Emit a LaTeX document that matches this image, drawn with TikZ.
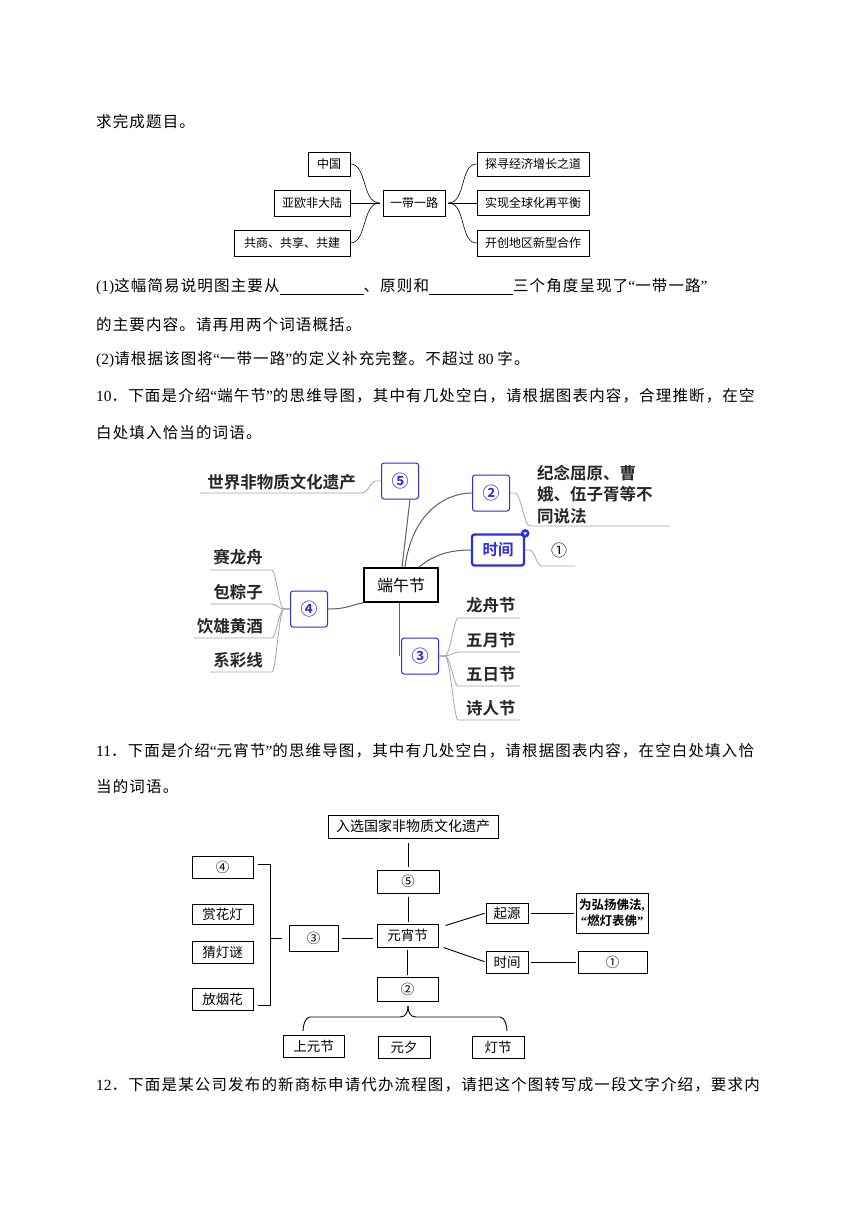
\documentclass[tikz,border=0pt]{standalone}
\usepackage{fontspec}
\setmainfont{Liberation Serif}
\newfontfamily\cjk{Noto Sans CJK SC}[BoldFont={Noto Sans CJK SC Bold}]
\newfontfamily\cjkt{Noto Sans CJK SC}[LetterSpace=7.4]
\definecolor{bl}{RGB}{45,45,225}
\definecolor{gl}{RGB}{165,165,165}
\definecolor{dl}{RGB}{95,95,95}
\newcommand\bt{\cjkt\fontsize{15.5}{15.5}\selectfont}
\newcommand\la[1]{{\rmfamily #1}}
\newcommand\qq[1]{\la{“}#1\la{”}}
\newcommand\blank{\rule[-3pt]{84pt}{0.8pt}}
\tikzset{
  txt/.style={anchor=west, inner sep=0, font=\bt},
  ba/.style={draw, line width=0.6pt, inner sep=0, font=\cjk\fontsize{12}{12}\selectfont},
  ca/.style={draw, line width=0.6pt},
  bb/.style={draw=bl, line width=1pt, rounded corners=2.5pt, fill=white, inner sep=0,
    minimum width=37pt, minimum height=36pt, text=bl, font=\cjk\bfseries\fontsize{17}{17}\selectfont},
  gt/.style={inner sep=0, font=\cjk\bfseries\fontsize{16.5}{16.5}\selectfont, text=black!85},
  gln/.style={draw=gl, line width=0.8pt},
  dln/.style={draw=dl, line width=1pt},
  bc/.style={draw, line width=1pt, inner sep=0, font=\cjk\fontsize{13.5}{13.5}\selectfont},
  cc/.style={draw, line width=0.9pt},
}
\begin{document}
\begin{tikzpicture}[x=1pt,y=-1pt]
\fill[white] (0,0) rectangle (860,1216);
\useasboundingbox (0,0) rectangle (860,1216);

% ---------- body text ----------
\node[txt] (l0) at (96,122) {求完成题目。};
\node[txt] (l1) at (96,287) {\la{(1)}这幅简易说明图主要从\blank、原则和\blank 三个角度呈现了\qq{一带一路}};
\node[txt] (l2) at (96,325) {的主要内容。请再用两个词语概括。};
\node[txt] (l3) at (96,360) {\la{(2)}请根据该图将\qq{一带一路}的定义补充完整。不超过\la{ 80 }字。};
\node[txt] (l4) at (96,396) {\la{10}．下面是介绍\qq{端午节}的思维导图，其中有几处空白，请根据图表内容，合理推断，在空};
\node[txt] (l5) at (96,433) {白处填入恰当的词语。};
\node[txt] (l6) at (96,751) {\la{11}．下面是介绍\qq{元宵节}的思维导图，其中有几处空白，请根据图表内容，在空白处填入恰};
\node[txt] (l7) at (96,787) {当的词语。};
\node[txt] (l8) at (96,1085) {\la{12}．下面是某公司发布的新商标申请代办流程图，请把这个图转写成一段文字介绍，要求内};

% ---------- diagram 1 ----------
\node[ba, minimum width=42pt, minimum height=24pt] (a1) at (329,164) {中国};
\node[ba, minimum width=76pt, minimum height=26pt] (a2) at (312,203) {亚欧非大陆};
\node[ba, minimum width=116pt, minimum height=26pt] (a3) at (292,243) {共商、共享、共建};
\node[ba, minimum width=62pt, minimum height=26pt] (am) at (414,203) {一带一路};
\node[ba, minimum width=112pt, minimum height=24pt] (a4) at (533,164) {探寻经济增长之道};
\node[ba, minimum width=112pt, minimum height=25pt] (a5) at (533,203) {实现全球化再平衡};
\node[ba, minimum width=112pt, minimum height=26pt] (a6) at (533,243) {开创地区新型合作};
\draw[ca] (a1.east) .. controls +(17,0) and +(-18,0) .. ([xshift=-3pt]am.west);
\draw[ca] (a3.east) .. controls +(17,0) and +(-18,0) .. ([xshift=-3pt]am.west);
\draw[ca, shorten >=3pt] (a2.east) -- (am.west);
\draw[ca] ([xshift=3pt]am.east) .. controls +(18,0) and +(-17,0) .. (a4.west);
\draw[ca] ([xshift=3pt]am.east) .. controls +(18,0) and +(-17,0) .. (a6.west);
\draw[ca, shorten <=3pt] (am.east) -- (a5.west);

% ---------- diagram 2 ----------
\node[bb] (t5) at (400,481) {⑤};
\node[bb] (t2) at (491,493) {②};
\node[bb, line width=2.3pt, minimum width=52pt, minimum height=31pt, font=\cjk\bfseries\fontsize{15.5}{15.5}\selectfont] (tsj) at (498,550) {时间};
\node[bb] (t4) at (309,609) {④};
\node[bb] (t3) at (420,656) {③};
\node[draw, line width=1.6pt, inner sep=0, minimum width=74pt, minimum height=34pt,
  font=\cjk\fontsize{16}{16}\selectfont] (dw) at (401,585) {端午节};

\node[gt, anchor=east] (s5) at (356,482) {世界非物质文化遗产};
\node[gt, anchor=north west, align=left, font=\cjk\bfseries\fontsize{16.5}{21.5}\selectfont] (s2) at (537,465) {纪念屈原、曹\\娥、伍子胥等不\\同说法};
\node[inner sep=0, font=\cjk\fontsize{16}{16}\selectfont] (s1) at (559,550) {①};
\node[gt, anchor=east] (sa) at (263,557) {赛龙舟};
\node[gt, anchor=east] (sb) at (263,592) {包粽子};
\node[gt, anchor=east] (sc) at (263,626) {饮雄黄酒};
\node[gt, anchor=east] (sd) at (263,660) {系彩线};
\node[gt, anchor=west] (r1t) at (466,605) {龙舟节};
\node[gt, anchor=west] (r2t) at (466,640) {五月节};
\node[gt, anchor=west] (r3t) at (466,674) {五日节};
\node[gt, anchor=west] (r4t) at (466,708) {诗人节};

\draw[gln] (t5.west) -- ++(-5,0) .. controls +(-5,0) and +(6,0) .. (362,493) -- (200,493);
\draw[gln] (t2.east) -- ++(5,0) .. controls +(6,0) and +(-6,0) .. (530,526) -- (670,526);
\draw[gln] (tsj.east) -- ++(4,0) .. controls +(6,0) and +(-6,0) .. (542,566) -- (575,566);
\foreach \yy/\xx in {570/210,604/210,638/194,672/210}{
  \draw[gln] (t4.west) -- ++(-6,0) .. controls +(-5,0) and +(4,0) .. (272,\yy) -- (\xx,\yy);
}
\foreach \yy in {618,652,686,720}{
  \draw[gln] (t3.east) -- ++(6,0) .. controls +(5,0) and +(-4,0) .. (458,\yy) -- (520,\yy);
}
\draw[dln] ([xshift=1pt]dw.north) -- ([xshift=10pt]t5.south);
\draw[dln] ([xshift=4pt]dw.north) .. controls +(6,-50) and +(-30,0) .. (t2.west);
\draw[dln] ([xshift=18pt]dw.north) .. controls +(14,-12) and +(-22,0) .. (tsj.west);
\draw[dln] (t4.east) .. controls +(20,0) and +(-12,2) .. (dw.south west);
\coordinate (c3) at ([xshift=-2pt]t3.west);
\draw[dln] (c3 |- dw.south) -- (c3);
\fill[bl] (tsj.north east) circle (4.3);
\fill[white] ([shift={(-2,-1)}]tsj.north east) -- ([shift={(2,-1)}]tsj.north east) -- ([shift={(0,1.8)}]tsj.north east) -- cycle;

% ---------- diagram 3 ----------
\node[bc, minimum width=170pt, minimum height=23pt, font=\cjk\fontsize{14}{14}\selectfont] (r0) at (413,826.5) {入选国家非物质文化遗产};
\node[bc, minimum width=62pt, minimum height=23pt] (r5) at (408,881.5) {⑤};
\node[bc, minimum width=61pt, minimum height=23pt] (rm) at (407.5,935.5) {元宵节};
\node[bc, minimum width=42pt, minimum height=20pt] (rq) at (507,913) {起源};
\node[bc, minimum width=72pt, minimum height=40pt, align=center, font=\cjk\bfseries\fontsize{12.5}{16}\selectfont] (rh) at (612,913) {为弘扬佛法\la{\textbf{,}}\\\la{\textbf{“}}燃灯表佛\la{\textbf{”}}};
\node[bc, minimum width=42pt, minimum height=22pt] (rt) at (507,962) {时间};
\node[bc, minimum width=69pt, minimum height=22pt] (r1) at (612.5,962) {①};
\node[bc, minimum width=49pt, minimum height=26pt] (r3) at (313.5,938) {③};
\node[bc, minimum width=61pt, minimum height=22pt] (r4) at (222.5,867) {④};
\node[bc, minimum width=61pt, minimum height=20pt] (rs) at (222.5,914) {赏花灯};
\node[bc, minimum width=61pt, minimum height=22pt] (rc) at (222.5,952) {猜灯谜};
\node[bc, minimum width=61pt, minimum height=22pt] (rf) at (222.5,999) {放烟花};
\node[bc, minimum width=61pt, minimum height=24pt] (r2) at (407.5,989) {②};
\node[bc, minimum width=61pt, minimum height=22pt] (ry) at (313.5,1046) {上元节};
\node[bc, minimum width=52pt, minimum height=22pt] (rx) at (404,1047) {元夕};
\node[bc, minimum width=52pt, minimum height=22pt] (rd) at (498,1047) {灯节};

\draw[cc, shorten <=4pt, shorten >=3pt] (r5.north |- r0.south) -- (r5.north);
\draw[cc, shorten <=3pt, shorten >=2pt] (r5.south) -- (r5.south |- rm.north);
\draw[cc, shorten >=1pt] ([xshift=7pt,yshift=-2pt]rm.north east) -- (rq.west);
\draw[cc, shorten >=1pt] ([xshift=5pt]rm.south east) -- (rt.west);
\draw[cc, shorten <=2pt, shorten >=2pt] (rq.east) -- (rh.west);
\draw[cc, shorten <=2pt, shorten >=2pt] (rt.east) -- (r1.west);
\draw[cc, shorten <=3pt, shorten >=4pt] (r3.east) -- (r3.east -| rm.west);
\draw[cc, shorten <=2pt, shorten >=2pt] (rm.south) -- (rm.south |- r2.north);
\coordinate (lb1) at (270,864);
\coordinate (lb2) at (270,1005);
\draw[cc] ([xshift=4pt,yshift=3pt]r4.east) -- (lb1) -- (lb2) -- ([xshift=4pt,yshift=-6pt]rf.east);
\draw[cc, shorten >=7pt] (lb1 |- r3.west) -- (r3.west);
\coordinate (bt) at (408,1006);
\draw[cc] (bt) .. controls +(0,6) and +(6,0) .. (400,1017) -- (310,1017) .. controls +(-5,0) and +(0,-5) .. (303,1031);
\draw[cc] (bt) .. controls +(0,6) and +(-6,0) .. (416,1017) -- (500,1017) .. controls +(5,0) and +(0,-5) .. (507,1031);
\end{tikzpicture}
\end{document}
